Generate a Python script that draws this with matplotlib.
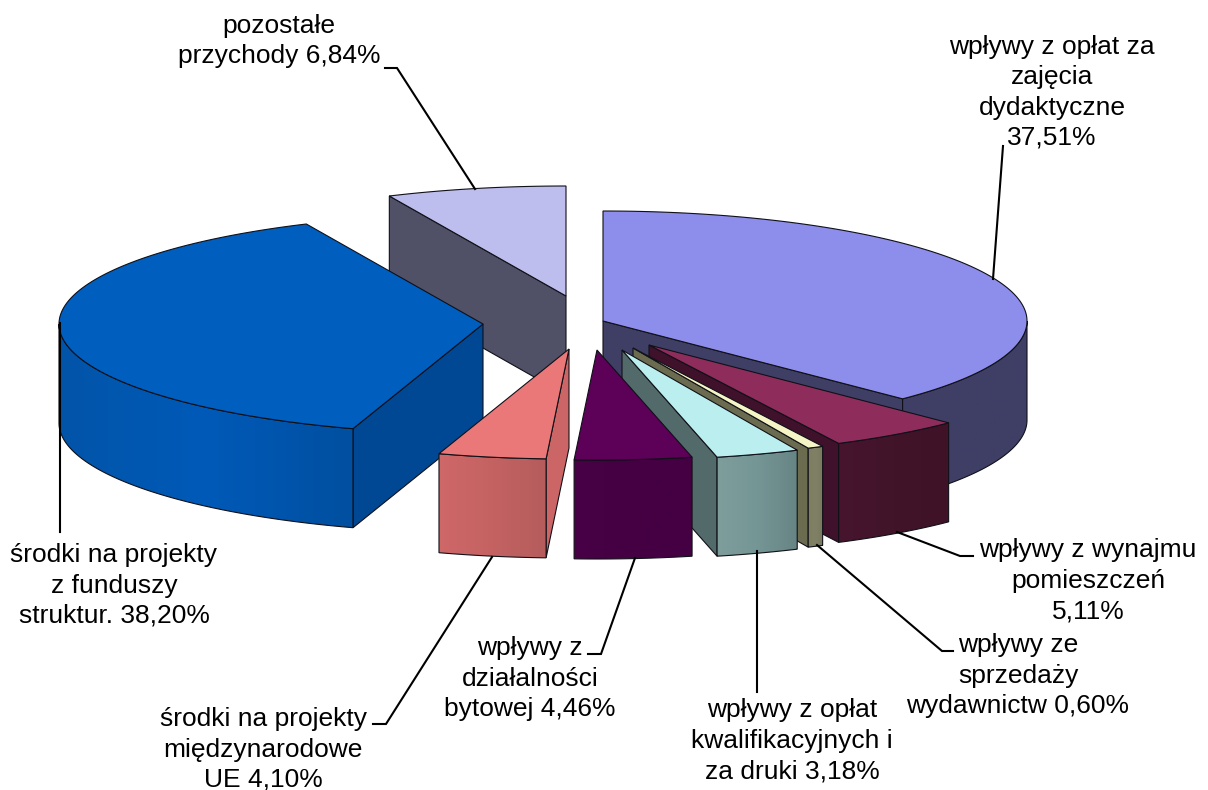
import numpy as np
import matplotlib
matplotlib.use('Agg')
import matplotlib.pyplot as plt
from matplotlib.colors import to_rgb
from matplotlib.patches import Polygon

plt.rcParams['font.family'] = ['Liberation Sans', 'DejaVu Sans']

# ----- data ----- #
shares = [37.51, 5.11, 0.60, 3.18, 4.46, 4.10, 38.20, 6.84]
labels = ['wpływy z opłat za\nzajęcia\ndydaktyczne\n37,51%',
          'wpływy z wynajmu\npomieszczeń\n5,11%',
          'wpływy ze\nsprzedaży\nwydawnictw 0,60%',
          'wpływy z opłat\nkwalifikacyjnych i\nza druki 3,18%',
          'wpływy z\ndziałalności\nbytowej 4,46%',
          'środki na projekty\nmiędzynarodowe\nUE 4,10%',
          'środki na projekty\nz funduszy\nstruktur. 38,20%',
          'pozostałe\nprzychody 6,84%']

# ----- layout and styles (pixels) ----- #
apex_x = [603, 649, 633, 622, 597, 569, 483, 566]
apex_y = [321, 345, 348, 350, 350, 349, 324, 296]
label_x = [1052, 1088, 1018, 792, 530, 263, 114, 279]
label_base = [145, 618, 713, 778, 716, 787, 623, 63]
leaders = [[(1003, 146), (993, 279)],
           [(973, 556), (960, 556), (897, 532)],
           [(953, 651), (942, 651), (817, 545)],
           [(757, 692), (757, 551)],
           [(588, 654), (601, 654), (635, 558)],
           [(373, 724), (386, 724), (492, 557)],
           [(60, 532), (60, 323)],
           [(385, 68), (397, 68), (475, 189)]]
top_col = ['#8D8DEB', '#8E2D5C', '#F5F5C5', '#BBEEEE', '#5C0058', '#EB7878', '#005EBE', '#BEBEEE']
wall_col = ['#3F3F66', '#3F112A', '#6B6B50', '#536A6A', '#460044', '#CC6666', '#004894', '#505066']
rim_col = [['#3F3F66', '#3F3F66', '#3F3F66'],
           ['#47152E', '#41142A', '#3F1228'],
           ['#7E7E62', '#808066', '#7A7A60'],
           ['#7E9E9C', '#749695', '#688484'],
           ['#480046', '#440042', '#440042'],
           ['#CF6868', '#C46262', '#B55C5C'],
           ['#0254A8', '#005AB8', '#004FA0'],
           ['#505066', '#505066', '#505066']]
draw_order = [7, 6, 0, 1, 2, 3, 5, 4]
rx, ry, depth = 424, 110, 99
edge = '#101018'

fig = plt.figure(figsize=(12.08, 7.9), dpi=100)
ax = fig.add_axes([0, 0, 1, 1])
ax.set_xlim(0, 1208)
ax.set_ylim(790, 0)
ax.axis('off')

bounds = np.radians(np.concatenate([[0], np.cumsum(shares) / sum(shares) * 360]))


def rim_point(i, t):
    return apex_x[i] + rx * np.sin(t), apex_y[i] - ry * np.cos(t)


def wall(i, t, z):
    x, y = rim_point(i, t)
    pts = [(apex_x[i], apex_y[i]), (x, y), (x, y + depth), (apex_x[i], apex_y[i] + depth)]
    ax.add_patch(Polygon(pts, closed=True, fc=wall_col[i], ec=edge, lw=0.8, zorder=z))


z = 1
for i in draw_order:
    t0, t1 = bounds[i], bounds[i + 1]
    # side walls that face the viewer
    if np.sin(t0) < -1e-6:
        wall(i, t0, z)
    if np.sin(t1) > 1e-6:
        wall(i, t1, z)
    z += 1
    # front rim with a soft left-right shade
    a0, a1 = max(t0, np.pi / 2), min(t1, 1.5 * np.pi)
    if a0 < a1:
        t = np.linspace(a0, a1, 120)
        x, y = rim_point(i, t)
        pts = np.r_[np.c_[x, y], np.c_[x, y + depth][::-1]]
        poly = Polygon(pts, closed=True, fc='none', ec=edge, lw=0.8, zorder=z + 1)
        stops = np.array([to_rgb(c) for c in rim_col[i]])
        pos = np.linspace(0, 1, 256)
        grad = np.stack([np.interp(pos, [0, 0.5, 1], stops[:, k]) for k in range(3)], axis=-1)
        im = ax.imshow(grad[None, :, :], extent=(x.min(), x.max(), y.max() + depth, y.min()),
                       aspect='auto', zorder=z)
        ax.add_patch(poly)
        im.set_clip_path(poly)
    z += 2
    # top face
    t = np.linspace(t0, t1, 120)
    x, y = rim_point(i, t)
    pts = np.r_[[(apex_x[i], apex_y[i])], np.c_[x, y]]
    ax.add_patch(Polygon(pts, closed=True, fc=top_col[i], ec=edge, lw=0.8, zorder=z))
    z += 1

ax.set_xlim(0, 1208)
ax.set_ylim(790, 0)

# ----- leader lines and labels ----- #
for line in leaders:
    xs, ys = zip(*line)
    ax.plot(xs, ys, color='black', lw=1.5, zorder=z, solid_joinstyle='miter')
for i in range(len(labels)):
    ax.text(label_x[i], label_base[i], labels[i], ha='center', va='baseline', fontsize=19,
            linespacing=1.34, color='black', zorder=z + 1)

plt.savefig('out.png', dpi=100)
